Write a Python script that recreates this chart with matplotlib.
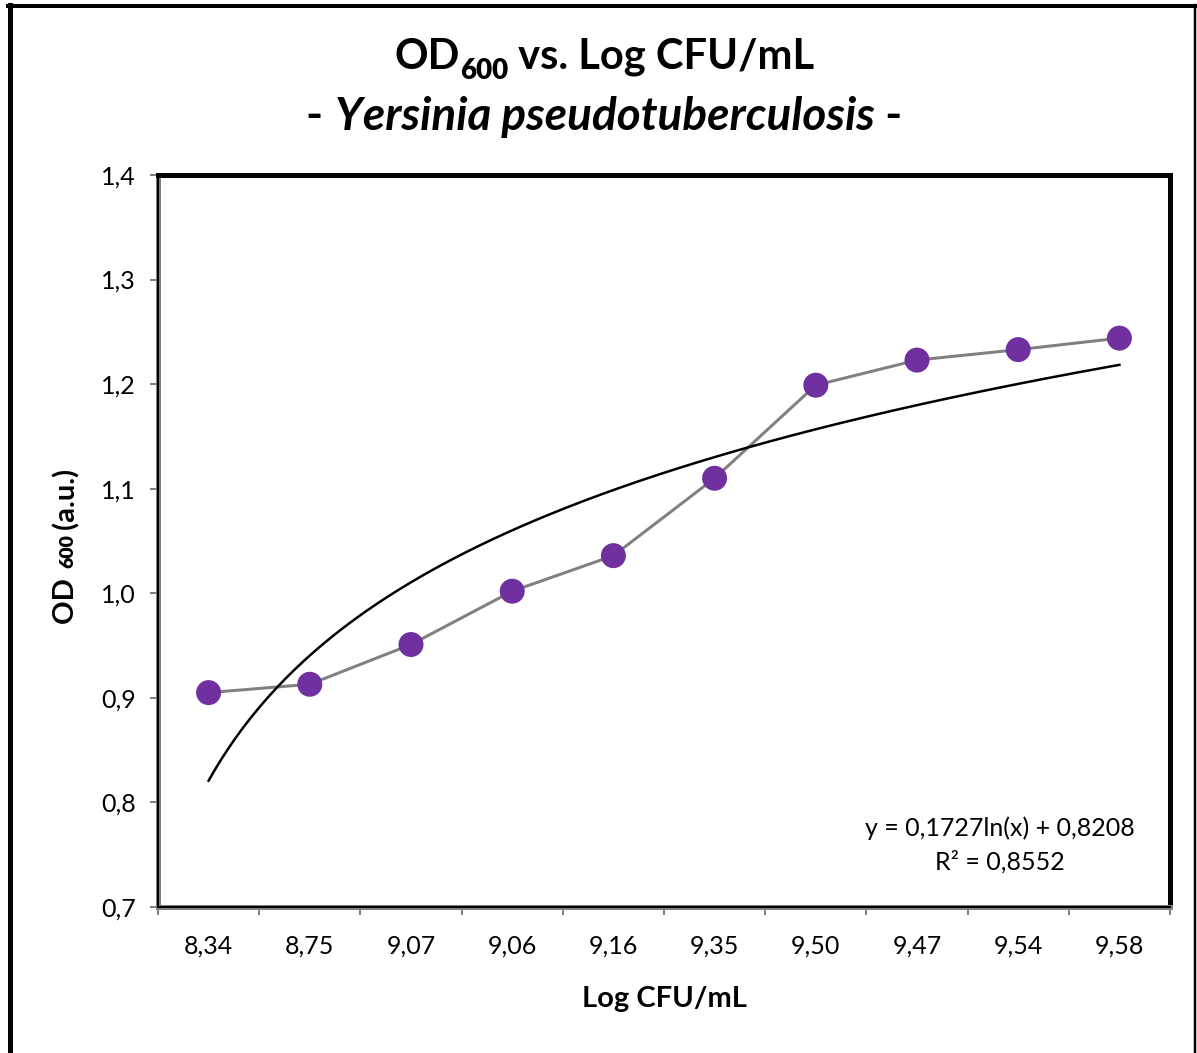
import matplotlib
matplotlib.use("Agg")
import matplotlib.pyplot as plt
import matplotlib.patheffects as pe
import numpy as np
from matplotlib.lines import Line2D

plt.rcParams['font.family'] = ['Lato', 'DejaVu Sans']

# data
categories = ['8,34', '8,75', '9,07', '9,06', '9,16', '9,35', '9,50', '9,47', '9,54', '9,58']
od600 = [0.905, 0.913, 0.951, 1.002, 1.036, 1.110, 1.199, 1.223, 1.233, 1.244]
# log trendline shown in the chart: y = a*ln(x) + b
fit_a = 0.1727
fit_b = 0.8208
y_ticks = [0.7, 0.8, 0.9, 1.0, 1.1, 1.2, 1.3, 1.4]

W, H = 1197, 1053
px = 1 / 100 * 72  # one pixel in points
fig = plt.figure(figsize=(W / 100, H / 100), dpi=100)
ax = fig.add_axes([158 / W, 146 / H, 1012 / W, 732 / H])

pos = np.arange(len(categories))
ax.plot(pos, od600, color='#808080', lw=3 * px, zorder=3)
ax.plot(pos, od600, ls='none', marker='o', ms=25 * px, color='#7030A0',
        markeredgewidth=0, zorder=4,
        path_effects=[pe.SimpleLineShadow(offset=(1.5, -2.5), shadow_color='#555555', alpha=0.35),
                      pe.Normal()])

xt = np.linspace(1, len(categories), 200)
ax.plot(xt - 1, fit_a * np.log(xt) + fit_b, color='black', lw=2.5 * px, zorder=5)

ax.set_xlim(-0.5, len(categories) - 0.5)
ax.set_ylim(0.7, 1.4)
ax.set_yticks(y_ticks)
ax.set_yticklabels([f'{v:.1f}'.replace('.', ',') for v in y_ticks])
ax.set_xticks(pos)
ax.set_xticklabels(categories)
ax.set_xticks(np.arange(-0.5, len(categories)), minor=True)
ax.tick_params(axis='x', which='major', length=0, pad=28 * px, labelsize=18)
ax.tick_params(axis='x', which='minor', length=8 * px, width=2 * px, color='#808080', direction='out')
ax.tick_params(axis='y', length=8 * px, width=2 * px, color='#808080', pad=14 * px, labelsize=18)

for s in ['top', 'right']:
    ax.spines[s].set_color('black')
    ax.spines[s].set_linewidth(5 * px)
for s in ['left', 'bottom']:
    ax.spines[s].set_color('#808080')
    ax.spines[s].set_linewidth(5 * px)
# black inner line on the gray left/bottom axes
ax.add_line(Line2D([0, 0], [0, 1], transform=ax.transAxes, color='black', lw=2 * px, clip_on=False, zorder=6))
ax.add_line(Line2D([0, 1], [0, 0], transform=ax.transAxes, color='black', lw=2 * px, clip_on=False, zorder=6))

ax.set_xlabel('Log CFU/mL', fontsize=21, fontweight='bold', labelpad=20)

ax.text(0.965, 0.085, 'y = 0,1727ln(x) + 0,8208\nR² = 0,8552', transform=ax.transAxes,
        ha='right', va='center', fontsize=18, multialignment='center', linespacing=1.5)


def pieces(cx, cy, parts, vertical=False):
    # parts: (text, size, weight, style, shift_px) laid out in a row centred on (cx, cy) in pixels
    renderer = fig.canvas.get_renderer()
    texts, widths = [], []
    for s, size, weight, style, shift in parts:
        t = fig.text(0, 0, s, fontsize=size, fontweight=weight, fontstyle=style,
                     va='baseline', ha='left', rotation=90 if vertical else 0,
                     transform=None)
        bb = t.get_window_extent(renderer)
        texts.append(t)
        widths.append(bb.height if vertical else bb.width)
    total = sum(widths)
    p = -total / 2
    for t, w, part in zip(texts, widths, parts):
        shift = part[4]
        if vertical:
            t.set_position((cx + shift, cy + p))
        else:
            t.set_position((cx + p, cy - shift))
        p += w


# title
pieces(W * 0.505, H - 69, [('OD', 30, 'bold', 'normal', 0), ('600', 20, 'heavy', 'normal', 10),
                           (' vs. Log CFU/mL', 30, 'bold', 'normal', 0)])
pieces(W * 0.505, H - 130, [('- ', 33, 'bold', 'normal', 0),
                            ('Yersinia pseudotuberculosis', 33, 'bold', 'italic', 0),
                            (' -', 33, 'bold', 'normal', 0)])
# y label (rotated)
pieces(53, H - 541, [('OD ', 21, 'bold', 'normal', 0), ('600', 14, 'heavy', 'normal', 6),
                     (' (a.u.)', 21, 'bold', 'normal', 0)], vertical=True)

# outer chart frame
fig.add_artist(Line2D([10 / W, 10 / W], [0, 1 - 5 / H], color='black', lw=5 * px))
fig.add_artist(Line2D([8 / W, 1195 / W], [1 - 6 / H, 1 - 6 / H], color='black', lw=4 * px))
fig.add_artist(Line2D([1195 / W, 1195 / W], [0, 1 - 5 / H], color='black', lw=2.5 * px))

fig.savefig('out.png', dpi=100)
